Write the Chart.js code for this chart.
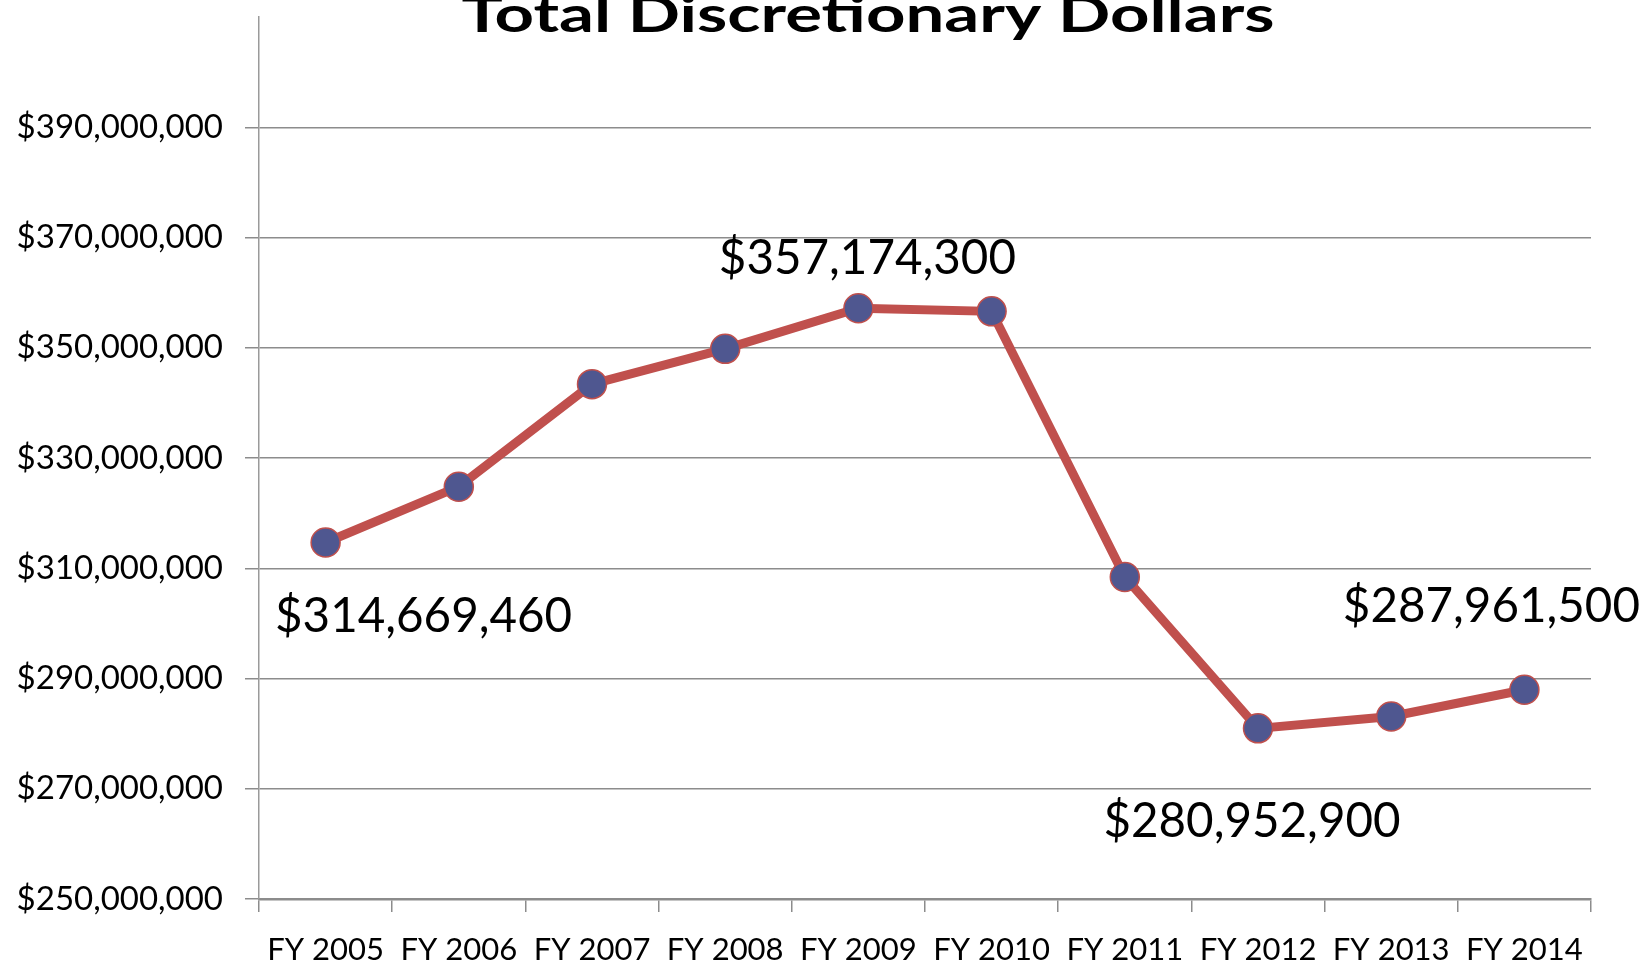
<!DOCTYPE html>
<html>
<head>
<meta charset="utf-8">
<script src="https://cdn.jsdelivr.net/npm/chart.js@4"></script>
<style>
  html, body { margin: 0; padding: 0; background: #fff; }
  #wrap { position: relative; width: 1646px; height: 963px; }
</style>
</head>
<body>
<div id="wrap"><canvas id="myChart"></canvas></div>
<script>
// data
var years = ['FY 2005', 'FY 2006', 'FY 2007', 'FY 2008', 'FY 2009',
             'FY 2010', 'FY 2011', 'FY 2012', 'FY 2013', 'FY 2014'];
var dollars = [314669460, 324800000, 343400000, 349800000, 357174300,
               356600000, 308400000, 280952900, 283100000, 287961500];
var labelledPoints = [0, 4, 7, 9];   // points that carry a value label
var yMin = 250000000, yMax = 410000000, yStep = 20000000;

var ctx = document.getElementById('myChart').getContext('2d');

function money(v) {
  return '$' + v.toLocaleString('en-US');
}

// title sits partly above the picture, like the cropped original
var titlePlugin = {
  id: 'cutTitle',
  afterDraw: function (chart) {
    var c = chart.ctx;
    var txt = 'Total Discretionary Dollars';
    c.save();
    c.font = 'bold 50px Lato';
    c.fillStyle = '#000';
    c.textAlign = 'center';
    c.textBaseline = 'alphabetic';
    // original title is drawn wide, stretch it to the same span
    var sx = 813 / c.measureText(txt).width;
    c.translate(868, 32);
    c.scale(sx, 1);
    c.fillText(txt, 0, 0);
    c.restore();
  }
};

// value labels next to some points
var valueLabels = {
  id: 'valueLabels',
  afterDatasetsDraw: function (chart) {
    var meta = chart.getDatasetMeta(0);
    var offs = { 0: [98, 74], 4: [9, -50], 7: [-6, 93], 9: [-33, -83] };
    var c = chart.ctx;
    c.save();
    c.font = '47.5px Lato';
    c.fillStyle = '#000';
    c.textAlign = 'center';
    c.textBaseline = 'middle';
    labelledPoints.forEach(function (i) {
      var pt = meta.data[i];
      c.fillText(money(dollars[i]), pt.x + offs[i][0], pt.y + offs[i][1]);
    });
    c.restore();
  }
};

Chart.defaults.font.family = 'Lato';
Chart.defaults.color = '#000';

var myChart = new Chart(ctx, {
  type: 'line',
  data: {
    labels: years,
    datasets: [{
      data: dollars,
      borderColor: '#C0504D',
      borderWidth: 9,
      pointBackgroundColor: '#4F5790',
      pointBorderColor: '#C0504D',
      pointBorderWidth: 1.5,
      pointRadius: 14.5,
      tension: 0
    }]
  },
  options: {
    responsive: true,
    maintainAspectRatio: false,
    animation: false,
    layout: { padding: { top: 17, right: 55, left: 0, bottom: 0 } },
    plugins: {
      legend: { display: false },
      tooltip: { enabled: false }
    },
    scales: {
      x: {
        offset: true,
        grid: {
          offset: true,
          drawOnChartArea: false,
          drawTicks: true,
          tickLength: 13,
          color: '#8c8c8c',
          lineWidth: 1.5
        },
        border: { color: '#8c8c8c', width: 2.5 },
        ticks: { font: { size: 31 }, padding: 19, maxRotation: 0, autoSkip: false },
        afterFit: function (s) { s.height = 64; }
      },
      y: {
        min: yMin,
        max: yMax,
        grid: {
          color: function (c) {
            return c.tick && c.tick.value === yMax ? 'rgba(0,0,0,0)' : '#8c8c8c';
          },
          lineWidth: 1.5,
          tickLength: 14
        },
        border: { color: '#9a9a9a', width: 1.5 },
        ticks: {
          stepSize: yStep,
          font: { size: 33 },
          padding: 22,
          callback: function (v) { return v === yMax ? '' : money(v); }
        },
        afterFit: function (s) {
          s.width = 259;
          s.paddingTop = 0;
          s.paddingBottom = 0;
        }
      }
    }
  },
  plugins: [titlePlugin, valueLabels]
});
</script>
</body>
</html>
